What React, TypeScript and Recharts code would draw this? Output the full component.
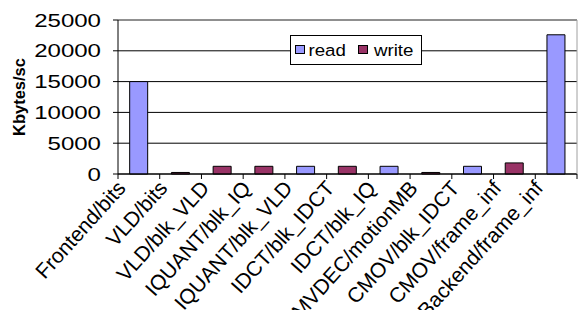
import React from 'react';
import { BarChart, Bar, XAxis, YAxis, CartesianGrid, Legend, ReferenceLine } from 'recharts';

const categories = ['Frontend/bits', 'VLD/bits', 'VLD/blk_VLD', 'IQUANT/blk_IQ', 'IQUANT/blk_VLD', 'IDCT/blk_IDCT', 'IDCT/blk_IQ', 'MVDEC/motionMB', 'CMOV/blk_IDCT', 'CMOV/frame_inf', 'Backend/frame_inf'];
const readValues = [15000, 0, 0, 0, 1250, 0, 1250, 0, 1250, 0, 22600];
const writeValues = [0, 250, 1250, 1250, 0, 1250, 0, 250, 0, 1800, 0];
const yTicks = [0, 5000, 10000, 15000, 20000, 25000];

const data = categories.map((name, i) => ({ name, read: readValues[i], write: writeValues[i] }));

const FONT = '"Liberation Sans", Arial, sans-serif';
const READ = '#9999FF';
const WRITE = '#993366';

const YTick = (props: any) => {
  const { x, y, payload } = props;
  return (
    <text transform={`translate(${x},${y}) scale(1.3,1)`} textAnchor="end" dy="0.36em" fontFamily={FONT} fontSize={18.5} fill="#000">
      {payload.value}
    </text>
  );
};

const XTick = (props: any) => {
  const { x, y, payload, index, visibleTicksCount } = props;
  const half = payload && payload.offset ? payload.offset : 20.9;
  const last = index === visibleTicksCount - 1;
  return (
    <g>
      <line x1={x - half} x2={x - half} y1={y} y2={y + 5} stroke="#000" />
      {last && <line x1={x + half} x2={x + half} y1={y} y2={y + 5} stroke="#000" />}
      <text transform={`translate(${x - 12},${y + 15}) rotate(-48)`} textAnchor="end" fontFamily={FONT} fontSize={21} fill="#000">
        {payload.value}
      </text>
    </g>
  );
};

const YLabel = (props: any) => {
  const vb = props.viewBox || { x: 0, y: 20, width: 118, height: 153 };
  const cx = vb.x + 24.5;
  const cy = vb.y + vb.height / 2;
  return (
    <text x={cx} y={cy} transform={`rotate(-90,${cx},${cy})`} textAnchor="middle" fontFamily={FONT} fontWeight="bold" fontSize={16.5} fill="#000">
      Kbytes/sc
    </text>
  );
};

const LegendContent = () => (
  <svg width={132} height={30} style={{ display: 'block' }}>
    <rect x={0.5} y={0.5} width={131} height={29} fill="#fff" stroke="#000" />
    <rect x={5.5} y={10.5} width={9} height={8} fill={READ} stroke="#000" />
    <text transform="translate(18.5,20.5) scale(1.1,1)" fontFamily={FONT} fontSize={17} fill="#000">read</text>
    <rect x={68.5} y={10.5} width={9} height={8} fill={WRITE} stroke="#000" />
    <text transform="translate(84,20.5) scale(1.1,1)" fontFamily={FONT} fontSize={17} fill="#000">write</text>
  </svg>
);

export default function App() {
  return (
    <div style={{ position: 'absolute', left: 0, top: 0, width: 578, height: 310, background: '#fff', overflow: 'hidden' }}>
      <BarChart width={578} height={310} data={data} margin={{ top: 20, right: 0, left: 0, bottom: 0 }} barCategoryGap="28%">
        <CartesianGrid vertical={false} stroke="#000" />
        <XAxis dataKey="name" interval={0} height={136} tickLine={false} tickSize={0} tickMargin={0} axisLine={{ stroke: '#000' }} tick={<XTick />} />
        <YAxis domain={[0, 25000]} ticks={yTicks} width={118} tickSize={5} tickMargin={12} axisLine={{ stroke: '#000' }} tickLine={{ stroke: '#000' }} tick={<YTick />} label={<YLabel />} interval={0} />
        <YAxis yAxisId="r" orientation="right" domain={[0, 25000]} width={1} tick={false} tickLine={false} axisLine={{ stroke: '#a0a0a0' }} />
        <ReferenceLine y={25000} stroke="#a0a0a0" />
        <Legend layout="horizontal" verticalAlign="middle" align="center" content={<LegendContent />} wrapperStyle={{ position: 'absolute', left: 290, top: 35, width: 132, height: 30 }} />
        <Bar dataKey="read" stackId="a" fill={READ} stroke="#000" strokeWidth={1} isAnimationActive={false} />
        <Bar dataKey="write" stackId="a" fill={WRITE} stroke="#000" strokeWidth={1} isAnimationActive={false} />
      </BarChart>
    </div>
  );
}
